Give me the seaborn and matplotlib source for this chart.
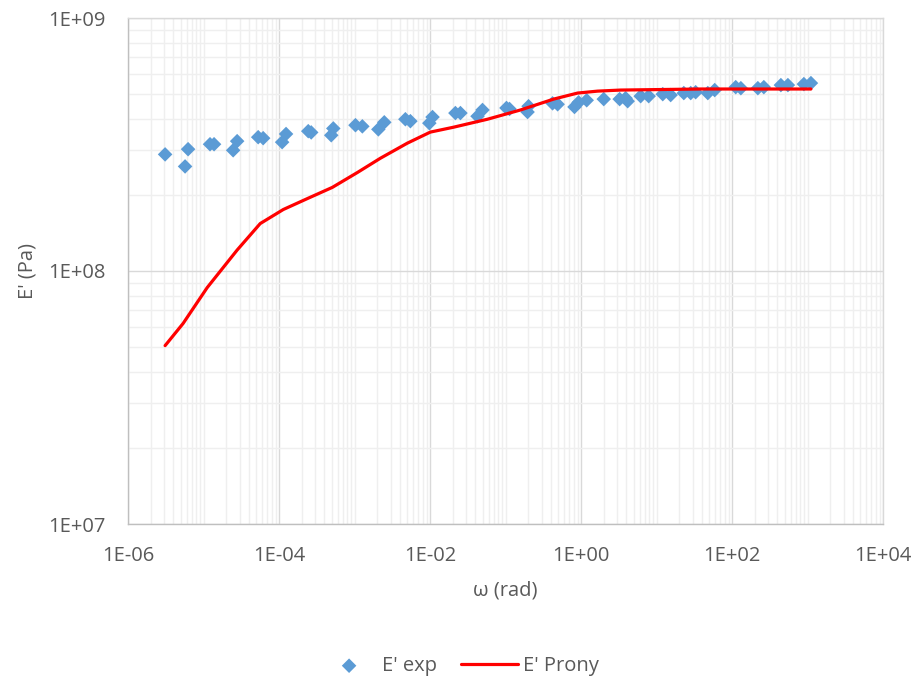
import numpy as np
import pandas as pd
import matplotlib
matplotlib.use("Agg")
import matplotlib.pyplot as plt
from matplotlib.ticker import LogLocator, FixedLocator, FuncFormatter, NullFormatter
import seaborn as sns

# Measured storage modulus (frequency sweep)
omega_exp = [3.1e-6, 5.7e-6, 6.25e-6, 1.22e-5, 1.38e-5, 2.47e-5, 2.79e-5, 5.3e-5, 6.17e-5,
             1.1e-4, 1.24e-4, 2.44e-4, 2.67e-4, 4.92e-4, 5.24e-4, 1.03e-3, 1.27e-3, 2.07e-3,
             2.48e-3, 4.72e-3, 5.5e-3, 9.8e-3, 1.08e-2, 2.17e-2, 2.53e-2, 4.26e-2, 4.96e-2,
             0.103, 0.113, 0.196, 0.202, 0.42, 0.49, 0.82, 0.93, 1.19, 2.0, 3.25, 3.9, 4.15,
             6.17, 7.88, 12.1, 15.4, 23.0, 28.4, 33.0, 47.8, 59.0, 112.0, 131.0, 220.0, 264.0,
             444.0, 550.0, 895.0, 1110.0]
E_exp = [2.89e8, 2.59e8, 3.03e8, 3.17e8, 3.17e8, 3.0e8, 3.26e8, 3.38e8, 3.35e8,
         3.23e8, 3.48e8, 3.57e8, 3.53e8, 3.44e8, 3.66e8, 3.77e8, 3.73e8, 3.63e8,
         3.87e8, 3.98e8, 3.91e8, 3.84e8, 4.06e8, 4.21e8, 4.21e8, 4.09e8, 4.33e8,
         4.41e8, 4.37e8, 4.25e8, 4.48e8, 4.6e8, 4.56e8, 4.45e8, 4.64e8, 4.73e8, 4.78e8,
         4.78e8, 4.82e8, 4.69e8, 4.91e8, 4.91e8, 5.0e8, 4.96e8, 5.05e8, 5.05e8, 5.09e8,
         5.05e8, 5.19e8, 5.33e8, 5.28e8, 5.28e8, 5.33e8, 5.43e8, 5.43e8, 5.48e8, 5.53e8]

# Prony series fit
omega_fit = [3.1e-6, 5.36e-6, 1.12e-5, 2.79e-5, 5.64e-5, 1.14e-4, 2.44e-4, 5.08e-4, 1.09e-3,
             2.2e-3, 5.0e-3, 1.01e-2, 2.04e-2, 5.77e-2, 0.158, 0.434, 0.90, 1.66, 3.35,
             38.6, 1110.0]
E_fit = [5.07e7, 6.2e7, 8.6e7, 1.21e8, 1.54e8, 1.75e8, 1.94e8, 2.14e8, 2.45e8,
         2.79e8, 3.2e8, 3.54e8, 3.7e8, 3.98e8, 4.33e8, 4.78e8, 5.05e8, 5.14e8, 5.19e8,
         5.24e8, 5.24e8]

# Axis tick values
x_ticks = [1e-6, 1e-4, 1e-2, 1e0, 1e2, 1e4]
y_ticks = [1e7, 1e8, 1e9]

df_exp = pd.DataFrame({"omega": omega_exp, "E": E_exp})
df_fit = pd.DataFrame({"omega": omega_fit, "E": E_fit})

sns.set_theme(style="white")
plt.rcParams["font.family"] = ["Open Sans", "DejaVu Sans"]

text_col = "#595959"
fig = plt.figure(figsize=(9.16, 6.82), dpi=100)
ax = fig.add_axes([128 / 916, 1 - 524 / 682, (883 - 128) / 916, (524 - 18) / 682])

sns.scatterplot(data=df_exp, x="omega", y="E", marker="D", s=55, color="#5B9BD5",
                edgecolor="none", label="E' exp", ax=ax, zorder=3)
sns.lineplot(data=df_fit, x="omega", y="E", color="#FF0000", linewidth=2.3,
             label="E' Prony", ax=ax, sort=False, zorder=4)

ax.set_xscale("log")
ax.set_yscale("log")
ax.set_xlim(x_ticks[0], x_ticks[-1])
ax.set_ylim(y_ticks[0], y_ticks[-1])

ax.xaxis.set_major_locator(FixedLocator(x_ticks))
ax.xaxis.set_minor_locator(LogLocator(base=10, subs=np.arange(1, 10), numticks=200))
ax.yaxis.set_major_locator(FixedLocator(y_ticks))
ax.yaxis.set_minor_locator(LogLocator(base=10, subs=np.arange(2, 10), numticks=200))
fmt = FuncFormatter(lambda v, p: f"{v:.0E}")
ax.xaxis.set_major_formatter(fmt)
ax.yaxis.set_major_formatter(fmt)
ax.xaxis.set_minor_formatter(NullFormatter())
ax.yaxis.set_minor_formatter(NullFormatter())

ax.grid(which="major", color="#d9d9d9", linewidth=1.0)
ax.grid(which="minor", color="#efefef", linewidth=1.0)
ax.set_axisbelow(True)
for side in ["top", "right"]:
    ax.spines[side].set_color("#d9d9d9")
for side in ["left", "bottom"]:
    ax.spines[side].set_color("#bfbfbf")
for sp in ax.spines.values():
    sp.set_linewidth(1.0)

ax.tick_params(which="both", length=0, labelsize=14.5, colors=text_col)
ax.tick_params(which="minor", labelbottom=False, labelleft=False)
ax.tick_params(axis="x", pad=16)
ax.tick_params(axis="y", pad=16)
ax.set_xlabel("ω (rad)", fontsize=14.5, color=text_col, labelpad=10)
ax.set_ylabel("E' (Pa)", fontsize=14.5, color=text_col, labelpad=8)

handles, labels = ax.get_legend_handles_labels()
ax.get_legend().remove()
fig.legend(handles, labels, loc="center", bbox_to_anchor=(0.502, 1 - 666 / 682), ncol=2,
           frameon=False, fontsize=14.5, labelcolor=text_col, handlelength=2.8,
           columnspacing=1.2, handletextpad=0.25)

fig.savefig("out.png", dpi=100, facecolor="white")
